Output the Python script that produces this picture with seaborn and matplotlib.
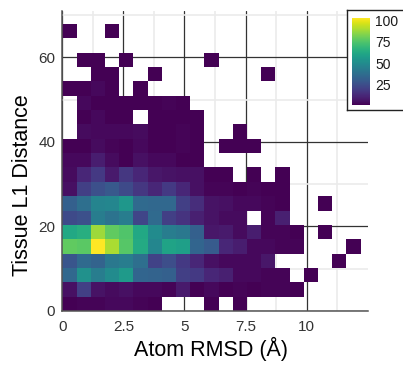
import numpy as np
import pandas as pd
import matplotlib
matplotlib.use("Agg")
import matplotlib.pyplot as plt
import seaborn as sns
from matplotlib.ticker import FixedLocator

# ---- data -------------------------------------------------------------
x_bin_width = 0.5815      # Atom RMSD bin width (Å)
y_bin_height = 3.394      # Tissue L1 distance bin height
n_xbins = 21
n_ybins = 20

# counts[j][i]: number of items in y-bin j (from bottom) and x-bin i (from left)
counts = [
    [1, 2, 2, 3, 3, 2, 1, 0, 0, 0, 1, 0, 1, 0, 0, 0, 0, 0, 0, 0, 0],
    [5, 20, 6, 4, 5, 3, 3, 2, 8, 1, 3, 1, 2, 1, 2, 2, 1, 0, 0, 0, 0],
    [35, 52, 44, 50, 56, 34, 33, 32, 20, 18, 12, 10, 3, 3, 2, 2, 0, 1, 0, 0, 0],
    [28, 36, 33, 42, 44, 38, 21, 25, 18, 12, 5, 3, 3, 3, 7, 0, 0, 0, 0, 1, 0],
    [78, 77, 103, 90, 76, 63, 48, 60, 58, 34, 30, 12, 9, 3, 3, 2, 2, 0, 0, 0, 1],
    [62, 65, 88, 78, 75, 62, 50, 44, 42, 32, 7, 8, 4, 9, 2, 2, 1, 0, 1, 0, 0],
    [24, 26, 44, 40, 44, 22, 36, 20, 16, 10, 6, 4, 4, 0, 2, 10, 0, 0, 0, 0, 0],
    [32, 38, 47, 48, 55, 36, 35, 35, 20, 14, 6, 5, 3, 3, 2, 1, 0, 0, 1, 0, 0],
    [5, 20, 26, 29, 24, 17, 12, 18, 12, 5, 2, 2, 1, 2, 1, 1, 0, 0, 0, 0, 0],
    [4, 12, 18, 8, 17, 12, 7, 6, 5, 5, 1, 1, 0, 1, 0, 1, 0, 0, 0, 0, 0],
    [3, 3, 9, 4, 1, 5, 3, 3, 1, 1, 0, 0, 0, 0, 0, 0, 0, 0, 0, 0, 0],
    [1, 1, 4, 2, 1, 3, 1, 1, 2, 1, 0, 1, 1, 1, 0, 0, 0, 0, 0, 0, 0],
    [0, 4, 3, 3, 3, 4, 1, 1, 2, 1, 0, 0, 1, 0, 0, 0, 0, 0, 0, 0, 0],
    [0, 1, 3, 1, 1, 0, 1, 1, 1, 1, 0, 0, 0, 0, 0, 0, 0, 0, 0, 0, 0],
    [0, 3, 1, 1, 1, 1, 1, 2, 1, 0, 0, 0, 0, 0, 0, 0, 0, 0, 0, 0, 0],
    [1, 1, 3, 1, 0, 1, 0, 0, 0, 0, 0, 0, 0, 0, 0, 0, 0, 0, 0, 0, 0],
    [0, 0, 1, 1, 0, 0, 1, 0, 0, 0, 0, 0, 0, 0, 1, 0, 0, 0, 0, 0, 0],
    [0, 1, 1, 0, 1, 0, 0, 0, 0, 0, 1, 0, 0, 0, 0, 0, 0, 0, 0, 0, 0],
    [0, 0, 0, 0, 0, 0, 0, 0, 0, 0, 0, 0, 0, 0, 0, 0, 0, 0, 0, 0, 0],
    [1, 0, 0, 1, 0, 0, 0, 0, 0, 0, 0, 0, 0, 0, 0, 0, 0, 0, 0, 0, 0],
]

x_ticks = [0, 2.5, 5, 7.5, 10]
x_tick_labels = ["0", "2.5", "5", "7.5", "10"]
y_ticks = [0, 20, 40, 60]
y_tick_labels = ["0", "20", "40", "60"]
cbar_ticks = [25, 50, 75, 100]
cbar_tick_labels = ["25", "50", "75", "100"]

# ---- long-form table --------------------------------------------------
x_edges = np.arange(n_xbins + 1) * x_bin_width
y_edges = np.arange(n_ybins + 1) * y_bin_height
recs = []
for j, row in enumerate(counts):
    for i, c in enumerate(row):
        if c > 0:
            recs.append(((x_edges[i] + x_edges[i + 1]) / 2,
                         (y_edges[j] + y_edges[j + 1]) / 2, c))
df = pd.DataFrame(recs, columns=["rmsd", "dist", "n"])
vmax = df["n"].max()
vmin = df["n"].min()

# ---- figure -------------------------------------------------------------
sns.set_theme(style="white")
plt.rcParams["font.family"] = ["Liberation Sans", "DejaVu Sans"]

W, H = 403, 368
fig = plt.figure(figsize=(W / 100, H / 100), dpi=100)


def px_axes(x0, y0, x1, y1):
    return [x0 / W, (H - y1) / H, (x1 - x0) / W, (y1 - y0) / H]


ax = fig.add_axes(px_axes(62.3, 10.5, 368, 311))
leg_ax = fig.add_axes(px_axes(347.3, 10, 412, 110))
cax = fig.add_axes(px_axes(351.7, 18, 370, 105))

sns.histplot(data=df, x="rmsd", y="dist", weights="n",
             bins=(x_edges, y_edges), cmap="viridis",
             cbar=True, cbar_ax=cax, ax=ax)
mesh = ax.collections[0]
mesh.set_clim(vmin, vmax)
cbar = mesh.colorbar

# axes limits / ticks
ax.set_xlim(0, 12.51)
ax.set_ylim(0, 71.07)
ax.xaxis.set_major_locator(FixedLocator(x_ticks))
ax.set_xticklabels(x_tick_labels)
ax.yaxis.set_major_locator(FixedLocator(y_ticks))
ax.set_yticklabels(y_tick_labels)
ax.xaxis.set_minor_locator(FixedLocator(list(np.array(x_ticks) + 1.25)))
ax.yaxis.set_minor_locator(FixedLocator(list(np.array(y_ticks) + 10)))

ax.set_axisbelow(True)
ax.grid(True, which="major", color="#333333", linewidth=0.9)
ax.grid(True, which="minor", color="#ebebeb", linewidth=1.2)
ax.tick_params(which="both", length=0)
ax.tick_params(axis="x", pad=6.3, labelsize=11, labelcolor="#333333")
ax.tick_params(axis="y", pad=5.0, labelsize=11, labelcolor="#333333")

for s in ["top", "right"]:
    ax.spines[s].set_visible(False)
for s in ["left", "bottom"]:
    ax.spines[s].set_visible(True)
    ax.spines[s].set_color("#555555")
    ax.spines[s].set_linewidth(1.1)

ax.set_xlabel("Atom RMSD (Å)", fontsize=15.5, color="black")
ax.set_ylabel("Tissue L1 Distance", fontsize=15.5, color="black")
ax.xaxis.set_label_coords(0.486, -0.0865)
ax.yaxis.set_label_coords(-0.097, 0.419)

# legend box
leg_ax.set_facecolor("white")
leg_ax.set_xticks([])
leg_ax.set_yticks([])
for s in leg_ax.spines.values():
    s.set_visible(True)
    s.set_color("#222222")
    s.set_linewidth(1.0)
leg_ax.set_zorder(5)
cax.set_zorder(6)

# colorbar
cbar.outline.set_visible(False)
cbar.set_ticks(cbar_ticks)
cbar.set_ticklabels(cbar_tick_labels)
cax.tick_params(direction="in", length=3.5, width=0.8, color="white",
                left=True, right=True, labelleft=False, labelright=True,
                labelsize=10, labelcolor="#1a1a1a", pad=3.6)

fig.savefig("out.png", dpi=100)
